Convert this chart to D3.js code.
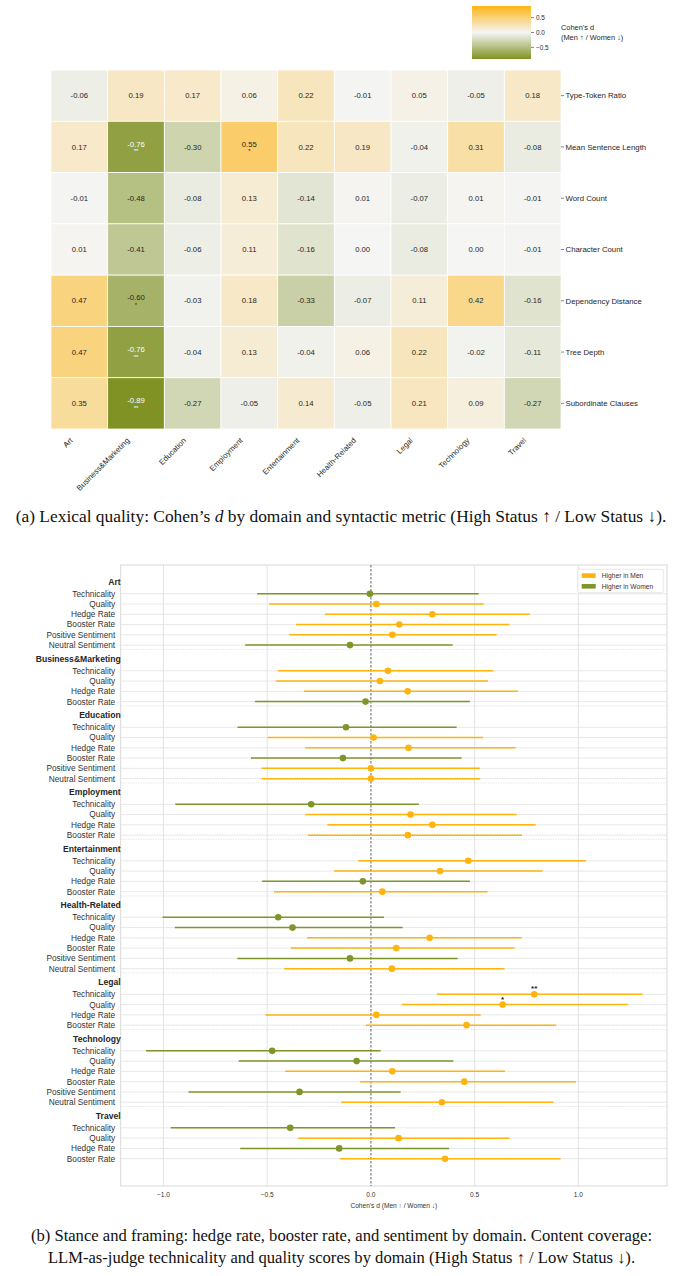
<!DOCTYPE html>
<html>
<head>
<meta charset="utf-8">
<script src="https://cdn.jsdelivr.net/npm/d3@7"></script>
<style>
  body { margin: 0; background: #fff; }
  svg { display: block; font-family: "Liberation Sans", Arial, sans-serif; }
  .caption { font-family: "Liberation Serif", "Times New Roman", serif; font-size: 16.6px; fill: #111; }
</style>
</head>
<body>
<svg id="chart" width="683" height="1276"></svg>
<script>
// ---- heatmap data (panel a) ----
const domains = ["Art", "Business&Marketing", "Education", "Employment", "Entertainment", "Health-Related", "Legal", "Technology", "Travel"];
const lexMetrics = ["Type-Token Ratio", "Mean Sentence Length", "Word Count", "Character Count", "Dependency Distance", "Tree Depth", "Subordinate Clauses"];
const lexValues = [
  [-0.06, 0.19, 0.17, 0.06, 0.22, -0.01, 0.05, -0.05, 0.18],
  [0.17, -0.76, -0.30, 0.55, 0.22, 0.19, -0.04, 0.31, -0.08],
  [-0.01, -0.48, -0.08, 0.13, -0.14, 0.01, -0.07, 0.01, -0.01],
  [0.01, -0.41, -0.06, 0.11, -0.16, 0.00, -0.08, 0.00, -0.01],
  [0.47, -0.60, -0.03, 0.18, -0.33, -0.07, 0.11, 0.42, -0.16],
  [0.47, -0.76, -0.04, 0.13, -0.04, 0.06, 0.22, -0.02, -0.11],
  [0.35, -0.89, -0.27, -0.05, 0.14, -0.05, 0.21, 0.09, -0.27]
];
const lexStars = [
  ["", "", "", "", "", "", "", "", ""],
  ["", "**", "", "*", "", "", "", "", ""],
  ["", "", "", "", "", "", "", "", ""],
  ["", "", "", "", "", "", "", "", ""],
  ["", "*", "", "", "", "", "", "", ""],
  ["", "**", "", "", "", "", "", "", ""],
  ["", "**", "", "", "", "", "", "", ""]
];
const cbarTicks = [0.5, 0.0, -0.5];

// ---- forest plot data (panel b) ----
const forestDomains = ["Art", "Business&Marketing", "Education", "Employment", "Entertainment", "Health-Related", "Legal", "Technology", "Travel"];
const forestMetrics = [
  ["Technicality", "Quality", "Hedge Rate", "Booster Rate", "Positive Sentiment", "Neutral Sentiment"],
  ["Technicality", "Quality", "Hedge Rate", "Booster Rate"],
  ["Technicality", "Quality", "Hedge Rate", "Booster Rate", "Positive Sentiment", "Neutral Sentiment"],
  ["Technicality", "Quality", "Hedge Rate", "Booster Rate"],
  ["Technicality", "Quality", "Hedge Rate", "Booster Rate"],
  ["Technicality", "Quality", "Hedge Rate", "Booster Rate", "Positive Sentiment", "Neutral Sentiment"],
  ["Technicality", "Quality", "Hedge Rate", "Booster Rate"],
  ["Technicality", "Quality", "Hedge Rate", "Booster Rate", "Positive Sentiment", "Neutral Sentiment"],
  ["Technicality", "Quality", "Hedge Rate", "Booster Rate"]
];
const forestD = [
  [-0.005, 0.026, 0.296, 0.137, 0.103, -0.101],
  [0.082, 0.043, 0.177, -0.026],
  [-0.120, 0.013, 0.181, -0.135, 0.000, 0.000],
  [-0.288, 0.191, 0.296, 0.178],
  [0.469, 0.333, -0.039, 0.055],
  [-0.447, -0.378, 0.283, 0.122, -0.101, 0.101],
  [0.787, 0.635, 0.026, 0.461],
  [-0.476, -0.069, 0.103, 0.450, -0.344, 0.342],
  [-0.389, 0.133, -0.153, 0.357]
];
const forestLo = [
  [-0.548, -0.490, -0.222, -0.361, -0.394, -0.606],
  [-0.448, -0.458, -0.323, -0.559],
  [-0.643, -0.498, -0.316, -0.578, -0.527, -0.527],
  [-0.943, -0.316, -0.210, -0.304],
  [-0.061, -0.178, -0.524, -0.467],
  [-1.004, -0.945, -0.307, -0.386, -0.644, -0.418],
  [0.318, 0.149, -0.508, -0.024],
  [-1.084, -0.638, -0.413, -0.053, -0.879, -0.143],
  [-0.965, -0.350, -0.630, -0.149]
];
const forestHi = [
  [0.520, 0.543, 0.766, 0.668, 0.606, 0.394],
  [0.590, 0.564, 0.708, 0.477],
  [0.413, 0.540, 0.697, 0.437, 0.525, 0.527],
  [0.231, 0.702, 0.794, 0.728],
  [1.036, 0.827, 0.477, 0.562],
  [0.063, 0.153, 0.726, 0.692, 0.418, 0.644],
  [1.309, 1.239, 0.529, 0.893],
  [0.047, 0.398, 0.646, 0.988, 0.143, 0.879],
  [0.116, 0.668, 0.377, 0.914]
];
const forestStars = [
  ["", "", "", "", "", ""],
  ["", "", "", ""],
  ["", "", "", "", "", ""],
  ["", "", "", ""],
  ["", "", "", ""],
  ["", "", "", "", "", ""],
  ["**", "*", "", ""],
  ["", "", "", "", "", ""],
  ["", "", "", ""]
];
const forestTicks = [-1.0, -0.5, 0.0, 0.5, 1.0];
const legendLabels = ["Higher in Men", "Higher in Women"];

const ORANGE = "#FDB515";
const OLIVE = "#7F9223";
const MEN = "#FFB30F";
const WOMEN = "#7E9527";

const svg = d3.select("#chart");

// ================= Panel (a): heatmap =================
const hm = { left: 51, right: 561, top: 70, bottom: 429 };
const x = d3.scaleBand().domain(domains).range([hm.left, hm.right]);
const y = d3.scaleBand().domain(lexMetrics).range([hm.top, hm.bottom]);
const color = d3.scaleLinear().domain([-0.89, 0, 0.89]).range([OLIVE, "#F5F5F4", ORANGE]).interpolate(d3.interpolateRgb);

const cells = [];
lexMetrics.forEach((m, i) => domains.forEach((d, j) => {
  cells.push({ metric: m, domain: d, v: lexValues[i][j], star: lexStars[i][j] });
}));

const gH = svg.append("g");
gH.selectAll("rect.cell")
  .data(cells)
  .enter()
  .append("rect")
  .attr("class", "cell")
  .attr("x", d => x(d.domain))
  .attr("y", d => y(d.metric))
  .attr("width", x.bandwidth())
  .attr("height", y.bandwidth())
  .attr("fill", d => color(d.v))
  .attr("stroke", "#fff")
  .attr("stroke-width", 0.8);

const cellText = gH.selectAll("g.lbl")
  .data(cells)
  .enter()
  .append("g")
  .attr("transform", d => `translate(${x(d.domain) + x.bandwidth() / 2},${y(d.metric) + y.bandwidth() / 2})`);

cellText.append("text")
  .attr("text-anchor", "middle")
  .attr("dy", d => d.star ? "-0.05em" : "0.35em")
  .style("font-size", "7.7px")
  .attr("fill", d => Math.abs(d.v) > 0.7 ? "#fff" : "#262626")
  .text(d => d.v.toFixed(2));

cellText.filter(d => d.star)
  .append("text")
  .attr("text-anchor", "middle")
  .attr("y", 6.5)
  .style("font-size", "6px")
  .attr("fill", d => Math.abs(d.v) > 0.7 ? "#fff" : "#262626")
  .text(d => d.star);

// row labels on the right
const rowAxis = gH.append("g").attr("transform", `translate(${hm.right},0)`);
rowAxis.selectAll("line")
  .data(lexMetrics)
  .enter()
  .append("line")
  .attr("x1", 0).attr("x2", 3)
  .attr("y1", d => y(d) + y.bandwidth() / 2)
  .attr("y2", d => y(d) + y.bandwidth() / 2)
  .attr("stroke", "#333").attr("stroke-width", 0.6);
rowAxis.selectAll("text")
  .data(lexMetrics)
  .enter()
  .append("text")
  .attr("x", 4.5)
  .attr("y", d => y(d) + y.bandwidth() / 2)
  .attr("dy", "0.35em")
  .style("font-size", "7.8px")
  .attr("fill", "#262626")
  .text(d => d);

// column labels rotated
gH.selectAll("text.col")
  .data(domains)
  .enter()
  .append("text")
  .attr("class", "col")
  .attr("text-anchor", "end")
  .attr("transform", d => `translate(${x(d) + x.bandwidth() / 2 - 6},${hm.bottom + 12}) rotate(-45)`)
  .style("font-size", "7.8px")
  .attr("fill", "#262626")
  .text(d => d);

// colour bar
const cb = { x: 472, y0: 6, y1: 59, w: 59 };
const cbY = d3.scaleLinear().domain([-0.89, 0.89]).range([cb.y1, cb.y0]);
const defs = svg.append("defs");
const grad = defs.append("linearGradient").attr("id", "cbgrad")
  .attr("x1", 0).attr("y1", 1).attr("x2", 0).attr("y2", 0);
d3.range(0, 1.0001, 0.05).forEach(t => {
  grad.append("stop").attr("offset", t).attr("stop-color", color(-0.89 + t * 1.78));
});
svg.append("rect")
  .attr("x", cb.x).attr("y", cb.y0)
  .attr("width", cb.w).attr("height", cb.y1 - cb.y0)
  .attr("fill", "url(#cbgrad)");
const cbAxis = svg.append("g").attr("transform", `translate(${cb.x + cb.w},0)`);
cbAxis.selectAll("line").data(cbarTicks).enter().append("line")
  .attr("x1", 0).attr("x2", 3)
  .attr("y1", d => cbY(d)).attr("y2", d => cbY(d))
  .attr("stroke", "#333").attr("stroke-width", 0.6);
cbAxis.selectAll("text").data(cbarTicks).enter().append("text")
  .attr("x", 5).attr("y", d => cbY(d)).attr("dy", "0.35em")
  .style("font-size", "6.4px").attr("fill", "#262626")
  .text(d => d3.format(".1f")(d).replace("-", "\u2212"));
svg.append("text").attr("x", 561).attr("y", 30)
  .style("font-size", "7.4px").attr("fill", "#262626").text("Cohen's d");
svg.append("text").attr("x", 561).attr("y", 40)
  .style("font-size", "7.4px").attr("fill", "#262626").text("(Men \u2191 / Women \u2193)");

// caption (a)
const capA = svg.append("text").attr("class", "caption").attr("x", 341).attr("y", 522).attr("text-anchor", "middle")
  .style("font-size", "17.4px");
capA.append("tspan").text("(a) Lexical quality: Cohen\u2019s ");
capA.append("tspan").style("font-style", "italic").text("d");
capA.append("tspan").text(" by domain and syntactic metric (High Status \u2191 / Low Status \u2193).");

// ================= Panel (b): forest plot =================
const fp = { left: 120.7, right: 667, top: 565, bottom: 1186 };
const fx = d3.scaleLinear().domain([-1.206, 1.427]).range([fp.left, fp.right]);

// build row positions (in row units) from the nested arrays
const rows = [];
const headers = [];
const seps = [];
let pos = 0;
forestDomains.forEach((dom, i) => {
  if (i > 0) pos += 1.5;
  headers.push({ name: dom, pos: pos - 1.17 });
  forestMetrics[i].forEach((m, k) => {
    rows.push({ domain: dom, metric: m, d: forestD[i][k], lo: forestLo[i][k], hi: forestHi[i][k], star: forestStars[i][k], pos: pos });
    pos += 1;
  });
  if (i < forestDomains.length - 1) seps.push(pos - 1 + 0.42);
});
const lastPos = pos - 1;
const fy = d3.scaleLinear().domain([-2.8, lastPos + 2.66]).range([fp.top, fp.bottom]);

const gF = svg.append("g");
gF.append("rect")
  .attr("x", fp.left).attr("y", fp.top)
  .attr("width", fp.right - fp.left).attr("height", fp.bottom - fp.top)
  .attr("fill", "#fff").attr("stroke", "#d6d6d6").attr("stroke-width", 0.9);

// vertical grid
gF.selectAll("line.vgrid")
  .data(forestTicks.filter(t => t !== 0))
  .enter().append("line")
  .attr("x1", d => fx(d)).attr("x2", d => fx(d))
  .attr("y1", fp.top).attr("y2", fp.bottom)
  .attr("stroke", "#dcdcdc").attr("stroke-width", 0.8);

// horizontal grid at each metric row
gF.selectAll("line.hgrid")
  .data(rows)
  .enter().append("line")
  .attr("x1", fp.left).attr("x2", fp.right)
  .attr("y1", d => fy(d.pos)).attr("y2", d => fy(d.pos))
  .attr("stroke", "#e2e2e2").attr("stroke-width", 0.8);

// dotted domain separators
gF.selectAll("line.sep")
  .data(seps)
  .enter().append("line")
  .attr("x1", fp.left).attr("x2", fp.right)
  .attr("y1", d => fy(d)).attr("y2", d => fy(d))
  .attr("stroke", "#cfcfcf").attr("stroke-width", 0.7)
  .attr("stroke-dasharray", "1,1.5");

// zero line
gF.append("line")
  .attr("x1", fx(0)).attr("x2", fx(0))
  .attr("y1", fp.top).attr("y2", fp.bottom)
  .attr("stroke", "#555").attr("stroke-width", 0.9)
  .attr("stroke-dasharray", "2.5,1.5");

// CI bars and points
gF.selectAll("line.ci")
  .data(rows)
  .enter().append("line")
  .attr("x1", d => fx(d.lo)).attr("x2", d => fx(d.hi))
  .attr("y1", d => fy(d.pos)).attr("y2", d => fy(d.pos))
  .attr("stroke", d => d.d >= 0 ? MEN : WOMEN)
  .attr("stroke-width", 1.5);

gF.selectAll("circle.pt")
  .data(rows)
  .enter().append("circle")
  .attr("cx", d => fx(d.d)).attr("cy", d => fy(d.pos))
  .attr("r", 3.3)
  .attr("fill", d => d.d >= 0 ? MEN : WOMEN);

gF.selectAll("text.star")
  .data(rows.filter(d => d.star))
  .enter().append("text")
  .attr("x", d => fx(d.d)).attr("y", d => fy(d.pos) - 3)
  .attr("text-anchor", "middle")
  .style("font-size", "8px").style("font-weight", "bold").attr("fill", "#222")
  .text(d => d.star);

// y labels
gF.selectAll("text.metric")
  .data(rows)
  .enter().append("text")
  .attr("x", fp.left - 5.5).attr("y", d => fy(d.pos)).attr("dy", "0.35em")
  .attr("text-anchor", "end")
  .style("font-size", "8.3px").attr("fill", "#333")
  .text(d => d.metric);
gF.selectAll("text.header")
  .data(headers)
  .enter().append("text")
  .attr("x", fp.left).attr("y", d => fy(d.pos)).attr("dy", "0.35em")
  .attr("text-anchor", "end")
  .style("font-size", "8.6px").style("font-weight", "bold").attr("fill", "#262626")
  .text(d => d.name);

// x axis ticks
gF.selectAll("text.xt")
  .data(forestTicks)
  .enter().append("text")
  .attr("x", d => fx(d)).attr("y", fp.bottom + 11)
  .attr("text-anchor", "middle")
  .style("font-size", "6.6px").attr("fill", "#333")
  .text(d => d3.format(".1f")(d).replace("-", "\u2212"));
gF.append("text")
  .attr("x", (fp.left + fp.right) / 2).attr("y", fp.bottom + 21.5)
  .attr("text-anchor", "middle")
  .style("font-size", "6.6px").attr("fill", "#333")
  .text("Cohen's d (Men \u2191 / Women \u2193)");

// legend
const lg = gF.append("g").attr("transform", "translate(577.7,569.3)");
lg.append("rect").attr("width", 85.6).attr("height", 23.4).attr("rx", 1.5)
  .attr("fill", "#fff").attr("fill-opacity", 0.8).attr("stroke", "#ddd").attr("stroke-width", 0.7);
legendLabels.forEach((t, i) => {
  lg.append("rect").attr("x", 4).attr("y", 4 + i * 10.7).attr("width", 14).attr("height", 4.6)
    .attr("fill", i === 0 ? MEN : WOMEN);
  lg.append("text").attr("x", 24).attr("y", 6.4 + i * 10.7).attr("dy", "0.35em")
    .style("font-size", "6.7px").attr("fill", "#333").text(t);
});

// caption (b)
svg.append("text").attr("class", "caption").attr("x", 341.5).attr("y", 1241).attr("text-anchor", "middle")
  .text("(b) Stance and framing: hedge rate, booster rate, and sentiment by domain. Content coverage:");
svg.append("text").attr("class", "caption").attr("x", 341.5).attr("y", 1263).attr("text-anchor", "middle")
  .text("LLM-as-judge technicality and quality scores by domain (High Status \u2191 / Low Status \u2193).");
</script>
</body>
</html>
